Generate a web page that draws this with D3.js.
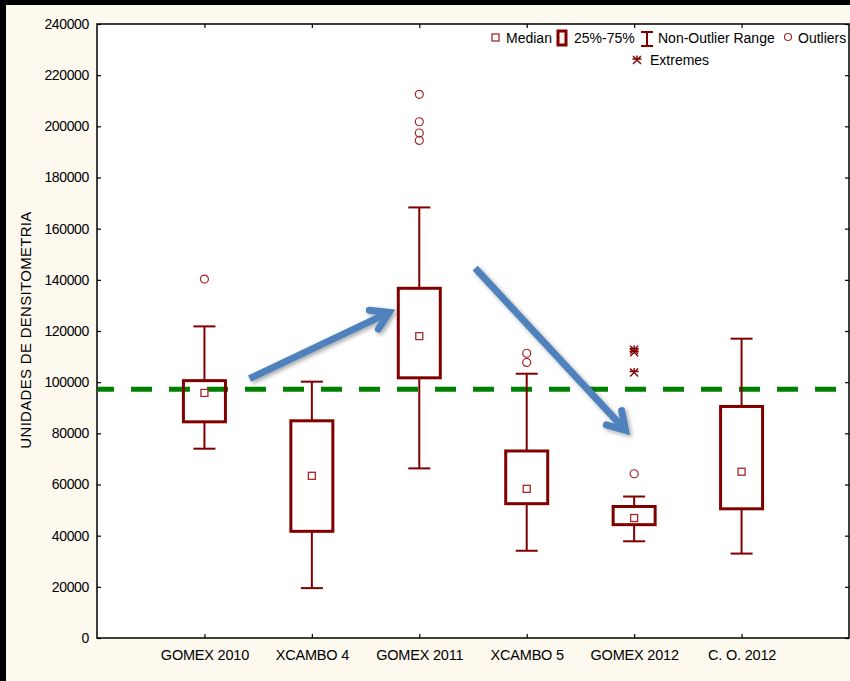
<!DOCTYPE html>
<html>
<head>
<meta charset="utf-8">
<script src="https://cdn.jsdelivr.net/npm/d3@7"></script>
<style>
  html, body { margin: 0; padding: 0; background: #000; }
  svg { display: block; }
  text { font-family: "Liberation Sans", Arial, sans-serif; }
</style>
</head>
<body>
<svg id="chart"></svg>
<script>
// categorias y valores
const categories = ["GOMEX 2010", "XCAMBO 4", "GOMEX 2011", "XCAMBO 5", "GOMEX 2012", "C. O. 2012"]
const whiskerLow = [74000, 19500, 66300, 34100, 37800, 33000]
const q1 = [84500, 41700, 101700, 52500, 44300, 50500]
const medians = [95800, 63400, 118000, 58300, 46900, 65000]
const q3 = [100600, 84900, 136700, 73100, 51400, 90500]
const whiskerHigh = [121800, 100200, 168300, 103300, 55300, 117000]
const outliers = [[140300], [], [212500, 201800, 197400, 194500], [111300, 107700], [64200], []]
const extremes = [[], [], [], [], [112700, 111700, 103800], []]
const yTicks = [0, 20000, 40000, 60000, 80000, 100000, 120000, 140000, 160000, 180000, 200000, 220000, 240000]
const refLine = 97200
// flechas: [indice categoria desde, valor desde, indice hasta, valor hasta]
const arrows = [[0.42, 101400, 1.72, 127300], [2.52, 144600, 3.92, 81200]]

const W = 850, H = 681
const margin = {top: 24, right: 1, bottom: 43, left: 97}

const colors = {
    box: "#800000",
    point: "#a3282a",
    ref: "#008000",
    arrow: "#4f81bd",
    bg: "#fdf9ef"
}

const svg = d3.select("#chart").attr("width", W).attr("height", H)

// fondo con borde negro arriba e izquierda
svg.append("rect").attr("width", W).attr("height", H).attr("fill", "#000")
svg.append("rect").attr("x", 6).attr("y", 5).attr("width", W - 6).attr("height", H - 5).attr("fill", colors.bg)

const defs = svg.append("defs")
const shadow = defs.append("filter").attr("id", "shadow")
    .attr("x", "-20%").attr("y", "-20%").attr("width", "140%").attr("height", "140%")
shadow.append("feDropShadow").attr("dx", 2).attr("dy", 2).attr("stdDeviation", 2)
    .attr("flood-color", "#000").attr("flood-opacity", 0.35)

const x = d3.scalePoint().domain(categories).range([margin.left, W - margin.right]).padding(1)
const y = d3.scaleLinear().domain([0, 240000]).range([H - margin.bottom, margin.top])

// area del grafico
svg.append("rect")
    .attr("x", margin.left).attr("y", margin.top)
    .attr("width", W - margin.right - margin.left).attr("height", H - margin.bottom - margin.top)
    .attr("fill", "#fff").attr("stroke", "#000").attr("stroke-width", 1.5)

// ejes
const axisStyle = (size, spacing) => g => {
    g.select(".domain").remove()
    g.selectAll(".tick line").attr("stroke", "#000").attr("stroke-width", 1.2)
    g.selectAll("text").attr("fill", "#000").style("font-size", size).style("letter-spacing", spacing)
}

svg.append("g").attr("transform", `translate(${margin.left},0)`)
    .call(d3.axisLeft(y).tickValues(yTicks).tickFormat(d3.format("d")).tickSize(-4).tickPadding(8))
    .call(axisStyle("14px", "-0.35px"))
svg.append("g").attr("transform", `translate(${W - margin.right},0)`)
    .call(d3.axisRight(y).tickValues(yTicks).tickFormat("").tickSize(-4))
    .call(axisStyle("14px", "0"))
svg.append("g").attr("transform", `translate(0,${H - margin.bottom})`)
    .call(d3.axisBottom(x).tickSize(-4).tickPadding(12))
    .call(axisStyle("14.5px", "-0.2px"))
svg.append("g").attr("transform", `translate(0,${margin.top})`)
    .call(d3.axisTop(x).tickFormat("").tickSize(-4))
    .call(axisStyle("14px", "0"))

svg.append("text")
    .attr("transform", "translate(31,330) rotate(-90)")
    .attr("text-anchor", "middle")
    .style("font-size", "15px")
    .style("letter-spacing", "0.3px")
    .text("UNIDADES DE DENSITOMETRIA")

// linea de referencia
svg.append("line")
    .attr("x1", margin.left + 1).attr("x2", W - margin.right)
    .attr("y1", y(refLine)).attr("y2", y(refLine))
    .attr("stroke", colors.ref).attr("stroke-width", 5)
    .attr("stroke-dasharray", "21,17").attr("stroke-dashoffset", 5)

// cajas
const boxW = 42, capW = 22
const boxes = svg.append("g").selectAll("g").data(categories).join("g")
    .attr("transform", d => `translate(${x(d)},0)`)

boxes.append("line")
    .attr("y1", (d, i) => y(whiskerHigh[i])).attr("y2", (d, i) => y(q3[i]))
    .attr("stroke", colors.box).attr("stroke-width", 2)
boxes.append("line")
    .attr("y1", (d, i) => y(q1[i])).attr("y2", (d, i) => y(whiskerLow[i]))
    .attr("stroke", colors.box).attr("stroke-width", 2)
boxes.append("line")
    .attr("x1", -capW / 2).attr("x2", capW / 2)
    .attr("y1", (d, i) => y(whiskerHigh[i])).attr("y2", (d, i) => y(whiskerHigh[i]))
    .attr("stroke", colors.box).attr("stroke-width", 2)
boxes.append("line")
    .attr("x1", -capW / 2).attr("x2", capW / 2)
    .attr("y1", (d, i) => y(whiskerLow[i])).attr("y2", (d, i) => y(whiskerLow[i]))
    .attr("stroke", colors.box).attr("stroke-width", 2)
boxes.append("rect")
    .attr("x", -boxW / 2).attr("width", boxW)
    .attr("y", (d, i) => y(q3[i])).attr("height", (d, i) => y(q1[i]) - y(q3[i]))
    .attr("fill", "none").attr("stroke", colors.box).attr("stroke-width", 3)
boxes.append("rect")
    .attr("x", -3.5).attr("width", 7)
    .attr("y", (d, i) => y(medians[i]) - 3.5).attr("height", 7)
    .attr("fill", "#fff").attr("stroke", colors.point).attr("stroke-width", 1.3)

boxes.selectAll("circle").data((d, i) => outliers[i]).join("circle")
    .attr("cy", d => y(d)).attr("r", 4)
    .attr("fill", "none").attr("stroke", colors.point).attr("stroke-width", 1.2)

const star = "M-4,-4L4,4M4,-4L-4,4M0,-4.5V0M-4.5,-1H4.5"
boxes.selectAll("path.ext").data((d, i) => extremes[i]).join("path")
    .attr("class", "ext")
    .attr("transform", d => `translate(0,${y(d)})`)
    .attr("d", star)
    .attr("stroke", colors.box).attr("stroke-width", 1.4).attr("fill", "none")

// flechas
const xi = v => x(categories[0]) + v * x.step()
const arrowG = svg.append("g").attr("filter", "url(#shadow)")
arrows.forEach(a => {
    const x1 = xi(a[0]), y1 = y(a[1]), x2 = xi(a[2]), y2 = y(a[3])
    const ang = Math.atan2(y2 - y1, x2 - x1)
    const len = 20, spread = 0.55
    arrowG.append("line")
        .attr("x1", x1).attr("y1", y1).attr("x2", x2 - 3 * Math.cos(ang)).attr("y2", y2 - 3 * Math.sin(ang))
        .attr("stroke", colors.arrow).attr("stroke-width", 7)
    arrowG.append("path")
        .attr("d", `M${x2 - len * Math.cos(ang - spread)},${y2 - len * Math.sin(ang - spread)}L${x2},${y2}L${x2 - len * Math.cos(ang + spread)},${y2 - len * Math.sin(ang + spread)}`)
        .attr("fill", "none").attr("stroke", colors.arrow).attr("stroke-width", 7)
        .attr("stroke-linejoin", "miter").attr("stroke-linecap", "round")
})

// leyenda
const legend = svg.append("g").style("font-size", "14px")
legend.append("rect").attr("x", 492).attr("y", 34).attr("width", 7).attr("height", 7)
    .attr("fill", "#fff").attr("stroke", colors.point).attr("stroke-width", 1.3)
legend.append("text").attr("x", 506).attr("y", 43).text("Median")
legend.append("rect").attr("x", 558).attr("y", 31).attr("width", 8).attr("height", 14)
    .attr("fill", "#fdf5ea").attr("stroke", colors.box).attr("stroke-width", 3)
legend.append("text").attr("x", 574).attr("y", 43).text("25%-75%")
legend.append("path").attr("d", "M641,32H653M647,32V46M641,46H653")
    .attr("stroke", colors.box).attr("stroke-width", 2).attr("fill", "none")
legend.append("text").attr("x", 658).attr("y", 43).text("Non-Outlier Range")
legend.append("circle").attr("cx", 788).attr("cy", 37).attr("r", 3.5)
    .attr("fill", "none").attr("stroke", colors.point).attr("stroke-width", 1.2)
legend.append("text").attr("x", 798).attr("y", 43).text("Outliers")
legend.append("path").attr("transform", "translate(637,60)")
    .attr("d", star)
    .attr("stroke", colors.box).attr("stroke-width", 1.4).attr("fill", "none")
legend.append("text").attr("x", 650).attr("y", 65).text("Extremes")
</script>
</body>
</html>
